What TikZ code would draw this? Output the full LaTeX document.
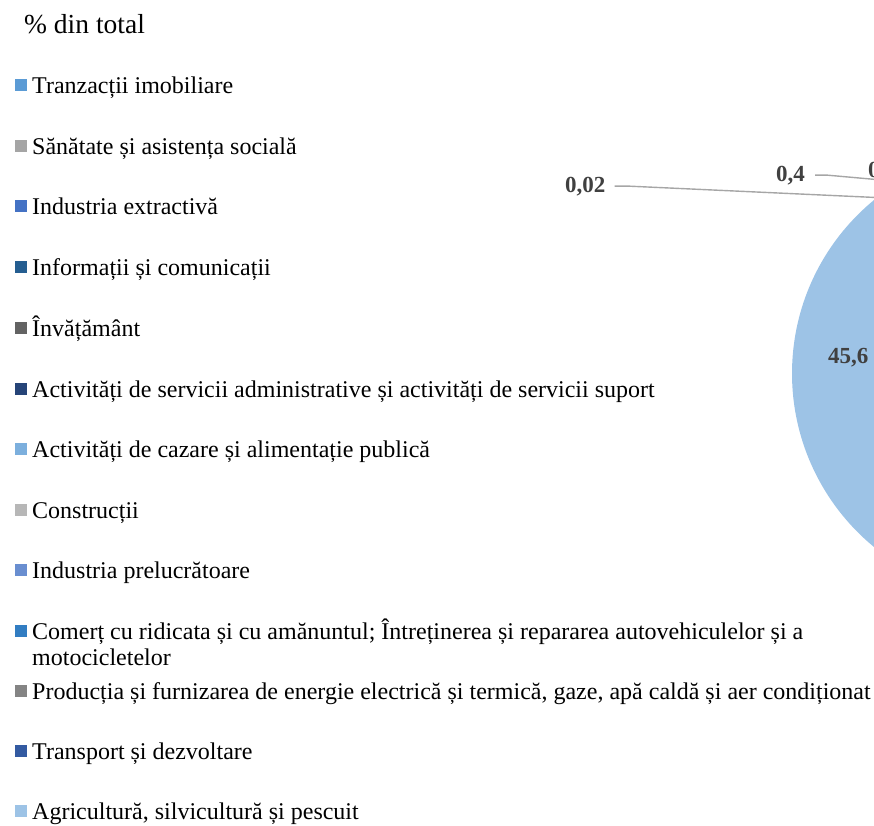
\documentclass[tikz,border=0pt]{standalone}
\usepackage{fontspec}
\setmainfont{Liberation Serif}
\definecolor{cA}{HTML}{5B9BD5}
\definecolor{cB}{HTML}{A5A5A5}
\definecolor{cC}{HTML}{4472C4}
\definecolor{cD}{HTML}{255E91}
\definecolor{cE}{HTML}{636363}
\definecolor{cF}{HTML}{264478}
\definecolor{cG}{HTML}{7CAFDD}
\definecolor{cH}{HTML}{B7B7B7}
\definecolor{cI}{HTML}{698ED0}
\definecolor{cJ}{HTML}{327DC2}
\definecolor{cK}{HTML}{848484}
\definecolor{cL}{HTML}{335AA1}
\definecolor{cM}{HTML}{9DC3E6}
\definecolor{valgray}{HTML}{404040}
\definecolor{leadgray}{HTML}{A6A6A6}
\begin{document}
\begin{tikzpicture}[x=1pt,y=-1pt,
  leg/.style={anchor=base west, inner sep=0pt, font=\fontsize{24}{26}\selectfont, text=black},
  sq/.style={minimum size=12pt, inner sep=0pt, anchor=center, draw=none},
  val/.style={anchor=base west, inner sep=0pt, font=\fontsize{23}{26}\selectfont\bfseries, text=valgray},
  leader/.style={draw=leadgray, line width=1.4pt}]
\useasboundingbox (0,0) rectangle (874,825);
\clip (0,0) rectangle (874,825);
% title
\node[anchor=base west, inner sep=0pt, font=\fontsize{27.5}{30}\selectfont] (title) at (24,33) {\% din total};
% legend
\foreach \i/\yy/\cc/\txt in {
  1/85/cA/{Tranzacții imobiliare},
  2/145.5/cB/{Sănătate și asistența socială},
  3/206/cC/{Industria extractivă},
  4/267/cD/{Informații și comunicații},
  5/328/cE/{Învățământ},
  6/389/cF/{Activități de servicii administrative și activități de servicii suport},
  7/449/cG/{Activități de cazare și alimentație publică},
  8/510/cH/{Construcții},
  9/570/cI/{Industria prelucrătoare},
  11/690.5/cK/{Producția și furnizarea de energie electrică și termică, gaze, apă caldă și aer condiționat},
  12/751/cL/{Transport și dezvoltare},
  13/811/cM/{Agricultură, silvicultură și pescuit}}{
  \node[sq, fill=\cc] (s\i) at (21,\yy) {};
  \node[leg] (l\i) at (32,\yy+8.5) {\txt};
}
\node[sq, fill=cJ] (s10) at (21,631) {};
\node[leg, align=left] (l10) at (32,665.5) {Comerț cu ridicata și cu amănuntul; Întreținerea și repararea autovehiculelor și a\\motocicletelor};
% pie slice
\coordinate (pc) at (1016.5,373.5);
\fill[cM] (pc) -- ++(-90:224.5) arc[start angle=-90, end angle=-254.2, radius=224.5] -- cycle;
% value labels
\node[val] (v4) at (828,363) {45,6};
\node[val] (v1) at (565,192) {0,02};
\node[val] (v2) at (776,181) {0,4};
\node[val] (v3) at (868,177) {0};
\coordinate (c1) at (876,197.5);
\coordinate (c2) at (876,179.5);
\draw[leader] ([xshift=9pt]v1.east) -- ++(14,0) -- (c1);
\draw[leader] ([xshift=10pt]v2.east) -- ++(12,0) -- (c2);
\end{tikzpicture}
\end{document}
